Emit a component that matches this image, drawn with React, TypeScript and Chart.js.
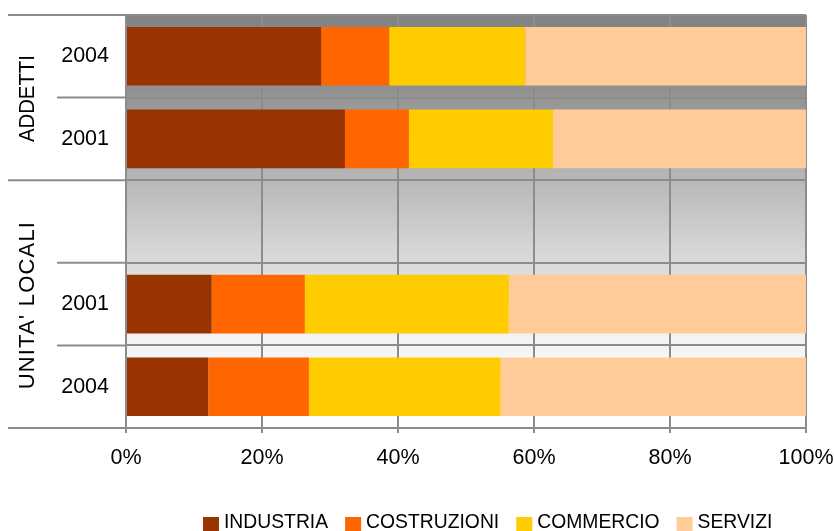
import React, { useEffect, useRef } from "react";
import { Chart, registerables } from "chart.js";

Chart.register(...registerables);

const categories = ["2004", "2001", "", "2001", "2004"];
const industria = [28.7, 32.2, null, 12.6, 12.1];
const costruzioni = [10.0, 9.4, null, 13.7, 14.8];
const commercio = [20.0, 21.2, null, 30.0, 28.2];
const servizi = [41.3, 37.2, null, 43.7, 44.9];
const seriesNames = ["INDUSTRIA", "COSTRUZIONI", "COMMERCIO", "SERVIZI"];
const seriesColors = ["#993300", "#FF6600", "#FFCC00", "#FFCC99"];
const groups = [
  { label: "ADDETTI", start: 0, end: 2 },
  { label: "UNITA' LOCALI", start: 2, end: 5 },
];
const xTicks = [0, 20, 40, 60, 80, 100];

const FONT = "'Liberation Sans', Arial, sans-serif";
const GRID = "#8c8c8c";

const deco = {
  id: "deco",
  beforeDraw(chart: any) {
    const { ctx, chartArea: a } = chart;
    const g = ctx.createLinearGradient(0, a.top, 0, a.bottom);
    g.addColorStop(0, "#828282");
    g.addColorStop(0.18, "#919191");
    g.addColorStop(0.375, "#b3b3b3");
    g.addColorStop(0.58, "#d8d8d8");
    g.addColorStop(0.78, "#f3f3f3");
    g.addColorStop(1, "#ffffff");
    ctx.save();
    ctx.fillStyle = g;
    ctx.fillRect(a.left, a.top, a.right - a.left, a.bottom - a.top);
    ctx.restore();
  },
  afterDraw(chart: any) {
    const { ctx, chartArea: a } = chart;
    const ys = chart.scales.y;
    const n = categories.length;
    const boundary = (i: number) => ys.getPixelForValue(i - 0.5);
    const groupEdges = new Set<number>();
    groups.forEach((g) => {
      groupEdges.add(g.start);
      groupEdges.add(g.end);
    });
    ctx.save();
    ctx.strokeStyle = GRID;
    ctx.lineWidth = 2;
    for (let i = 0; i <= n; i++) {
      const y = boundary(i);
      const x0 = groupEdges.has(i) ? 8 : 57;
      ctx.beginPath();
      ctx.moveTo(x0, y);
      ctx.lineTo(a.left, y);
      ctx.stroke();
    }
    // group labels
    ctx.fillStyle = "#000";
    ctx.font = `22px ${FONT}`;
    ctx.textAlign = "center";
    ctx.textBaseline = "alphabetic";
    groups.forEach((g) => {
      const yc = (boundary(g.start) + boundary(g.end)) / 2;
      ctx.save();
      ctx.translate(34, yc + 1);
      ctx.rotate(-Math.PI / 2);
      const long = g.label.length > 8;
      (ctx as any).letterSpacing = long ? "1.2px" : "0px";
      ctx.fillText(g.label, 0, 0, long ? 200 : 87);
      ctx.restore();
    });
    // legend
    ctx.font = `21px ${FONT}`;
    ctx.textAlign = "left";
    ctx.textBaseline = "alphabetic";
    (ctx as any).letterSpacing = "0px";
    let x = 203;
    seriesNames.forEach((name, i) => {
      ctx.fillStyle = seriesColors[i];
      ctx.fillRect(x, 517, 16, 16);
      ctx.fillStyle = "#000";
      const tx = x + 21;
      const w = ctx.measureText(name).width * 0.92;
      ctx.fillText(name, tx, 528, w);
      x = tx + w + 17;
    });
    ctx.restore();
  },
};

export default function App() {
  const ref = useRef<HTMLCanvasElement>(null);
  useEffect(() => {
    const dataArrays = [industria, costruzioni, commercio, servizi];
    const chart = new Chart(ref.current!, {
      type: "bar",
      data: {
        labels: categories,
        datasets: seriesNames.map((name, i) => ({
          label: name,
          data: dataArrays[i] as any,
          backgroundColor: seriesColors[i],
          borderWidth: 0,
          categoryPercentage: 1,
          barPercentage: 0.71,
        })),
      },
      options: {
        indexAxis: "y",
        animation: false,
        responsive: false,
        maintainAspectRatio: false,
        layout: { padding: { left: 0, right: 28, top: 15, bottom: 53 } },
        plugins: { legend: { display: false }, tooltip: { enabled: false } },
        scales: {
          x: {
            stacked: true,
            min: 0,
            max: 100,
            afterBuildTicks: (s: any) => {
              s.ticks = xTicks.map((v) => ({ value: v }));
            },
            afterFit: (s: any) => {
              s.height = 50;
              s.paddingLeft = 0;
              s.paddingRight = 0;
              s.paddingTop = 0;
              s.paddingBottom = 0;
            },
            ticks: {
              callback: (v: any) => v + "%",
              color: "#000",
              font: { family: FONT, size: 21.5 },
              padding: 12,
              maxRotation: 0,
            },
            grid: { color: GRID, lineWidth: 2, tickLength: 5, drawTicks: true },
            border: { color: GRID, width: 2 },
          },
          y: {
            stacked: true,
            afterFit: (s: any) => {
              s.width = 126;
              s.paddingLeft = 0;
              s.paddingRight = 0;
              s.paddingTop = 0;
              s.paddingBottom = 0;
            },
            ticks: {
              color: "#000",
              font: { family: FONT, size: 21.5 },
              padding: 17,
            },
            grid: { color: GRID, lineWidth: 2, drawTicks: false, offset: true },
            border: { color: GRID, width: 2 },
          },
        },
      },
      plugins: [deco],
    });
    return () => chart.destroy();
  }, []);
  return (
    <div style={{ position: "absolute", left: 0, top: 0, width: 834, height: 531, overflow: "hidden", background: "#fff" }}>
      <canvas ref={ref} width={834} height={531} style={{ display: "block" }} />
    </div>
  );
}
